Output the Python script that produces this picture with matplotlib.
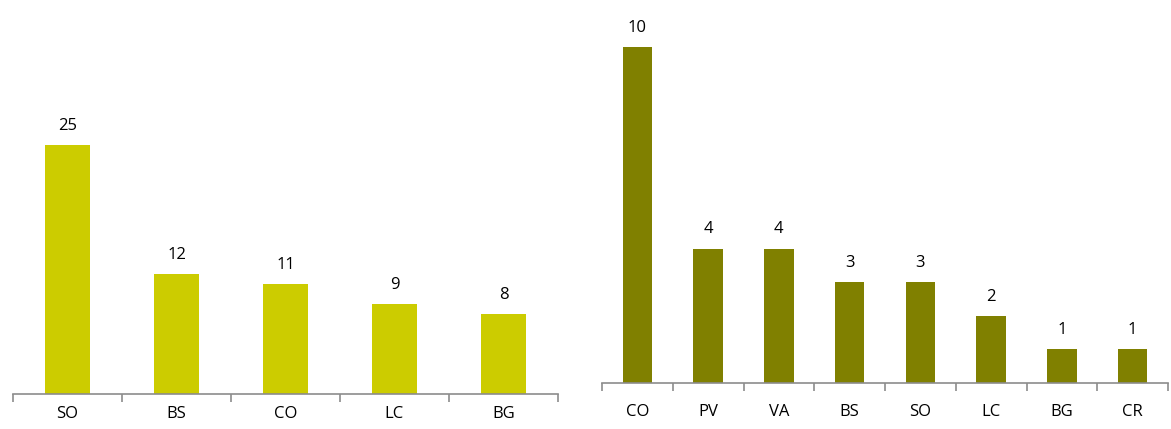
import matplotlib.pyplot as plt

# left panel data
left_cats = ["SO", "BS", "CO", "LC", "BG"]
left_vals = [25, 12, 11, 9, 8]

# right panel data
right_cats = ["CO", "PV", "VA", "BS", "SO", "LC", "BG", "CR"]
right_vals = [10, 4, 4, 3, 3, 2, 1, 1]

W, H = 1171, 429
fig = plt.figure(figsize=(W / 100, H / 100), dpi=100)
plt.rcParams["font.family"] = ["Open Sans", "DejaVu Sans"]


def panel(rect, cats, vals, color, px_per_unit, width, pad):
    ax = fig.add_axes(rect)
    n = len(cats)
    x = range(n)
    ax.bar(x, vals, width=width, color=color)
    ax.set_xlim(-0.5, n - 0.5)
    ax.set_ylim(0, rect[3] * H / px_per_unit)
    for s in ["top", "right", "left"]:
        ax.spines[s].set_visible(False)
    ax.spines["bottom"].set_color("#8c8c8c")
    ax.spines["bottom"].set_linewidth(1.2)
    ax.set_yticks([])
    ax.set_xticks([i - 0.5 for i in range(n + 1)], minor=True)
    ax.set_xticks(list(x))
    ax.set_xticklabels(cats, fontsize=12)
    ax.tick_params(axis="x", which="major", length=0, pad=pad)
    ax.tick_params(axis="x", which="minor", length=6, color="#8c8c8c", width=1.2)
    for xi, v in zip(x, vals):
        ax.annotate(str(v), (xi, v), xytext=(0, 8), textcoords="offset points",
                    ha="center", va="bottom", fontsize=12)
    return ax


# left: axis line at y=394, x 13..558, 25 -> 249 px
panel([13 / W, 1 - 394 / H, 545 / W, 390 / H], left_cats, left_vals,
      "#cccc00", 9.96, 0.41, 9)
# right: axis line at y=383, x 602..1168, 10 -> 336 px
panel([602 / W, 1 - 383 / H, 566 / W, 380 / H], right_cats, right_vals,
      "#808000", 33.6, 0.42, 15)

fig.savefig("out.png", dpi=100)
